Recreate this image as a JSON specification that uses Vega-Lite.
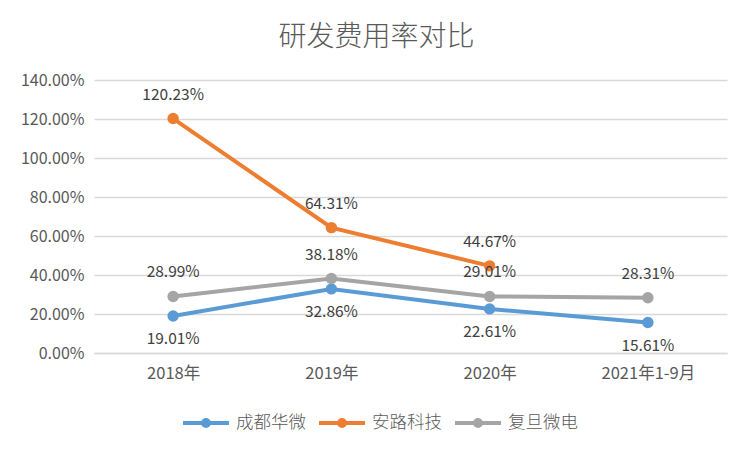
{
  "$schema": "https://vega.github.io/schema/vega-lite/v6.json",
  "width": 633,
  "height": 273,
  "autosize": {"type": "none"},
  "padding": {"left": 94, "top": 80, "right": 25, "bottom": 99},
  "background": "white",
  "title": {
    "text": "研发费用率对比",
    "fontSize": 28,
    "font": "Noto Sans CJK SC",
    "fontWeight": 300,
    "color": "#595959",
    "anchor": "middle",
    "dx": -34,
    "offset": 20
  },
  "config": {
    "view": {"stroke": null},
    "font": "Noto Sans CJK SC"
  },
  "data": {
    "values": [
      {"period": "2018年", "company": "成都华微", "rate": 0.1901},
      {"period": "2019年", "company": "成都华微", "rate": 0.3286},
      {"period": "2020年", "company": "成都华微", "rate": 0.2261},
      {"period": "2021年1-9月", "company": "成都华微", "rate": 0.1561},
      {"period": "2018年", "company": "安路科技", "rate": 1.2023},
      {"period": "2019年", "company": "安路科技", "rate": 0.6431},
      {"period": "2020年", "company": "安路科技", "rate": 0.4467},
      {"period": "2018年", "company": "复旦微电", "rate": 0.2899},
      {"period": "2019年", "company": "复旦微电", "rate": 0.3818},
      {"period": "2020年", "company": "复旦微电", "rate": 0.2901},
      {"period": "2021年1-9月", "company": "复旦微电", "rate": 0.2831}
    ]
  },
  "encoding": {
    "x": {
      "field": "period",
      "type": "ordinal",
      "sort": ["2018年", "2019年", "2020年", "2021年1-9月"],
      "scale": {"paddingInner": 0, "paddingOuter": 0},
      "axis": {
        "title": null,
        "labelAngle": 0,
        "labelFontSize": 16.5,
        "labelColor": "#595959",
        "labelPadding": 12,
        "ticks": false,
        "domainColor": "#D9D9D9",
        "domainWidth": 1.5
      }
    },
    "y": {
      "field": "rate",
      "type": "quantitative",
      "scale": {"domain": [0, 1.4]},
      "axis": {
        "title": null,
        "format": ".2%",
        "values": [0, 0.2, 0.4, 0.6, 0.8, 1.0, 1.2, 1.4],
        "labelOverlap": false,
        "labelFontSize": 16,
        "labelColor": "#595959",
        "labelPadding": 10,
        "ticks": false,
        "domain": false,
        "gridColor": "#D9D9D9",
        "gridWidth": 1.5
      }
    }
  },
  "layer": [
    {
      "mark": {
        "type": "line",
        "strokeWidth": 4,
        "point": {"filled": true, "size": 130}
      },
      "encoding": {
        "color": {
          "field": "company",
          "type": "nominal",
          "scale": {
            "domain": ["成都华微", "安路科技", "复旦微电"],
            "range": ["#5B9BD5", "#ED7D31", "#A5A5A5"]
          },
          "legend": {
            "title": null,
            "orient": "none",
            "direction": "horizontal",
            "legendX": 87,
            "legendY": 318,
            "labelFontSize": 17.5,
            "labelFontWeight": 300,
            "labelColor": "#595959",
            "symbolType": "M-1,0H1M-0.13,0a0.13,0.13 0 1,0 0.26,0a0.13,0.13 0 1,0 -0.26,0",
            "symbolSize": 2116,
            "symbolStrokeWidth": 4,
            "columnPadding": 5,
            "labelOffset": 5
          }
        }
      }
    },
    {
      "transform": [{"filter": "datum.company !== '成都华微'"}],
      "mark": {"type": "text", "dy": -24, "fontSize": 15.5, "color": "#404040"},
      "encoding": {
        "text": {"field": "rate", "type": "quantitative", "format": ".2%"}
      }
    },
    {
      "transform": [{"filter": "datum.company === '成都华微'"}],
      "mark": {"type": "text", "dy": 23, "fontSize": 15.5, "color": "#404040"},
      "encoding": {
        "text": {"field": "rate", "type": "quantitative", "format": ".2%"}
      }
    }
  ]
}
